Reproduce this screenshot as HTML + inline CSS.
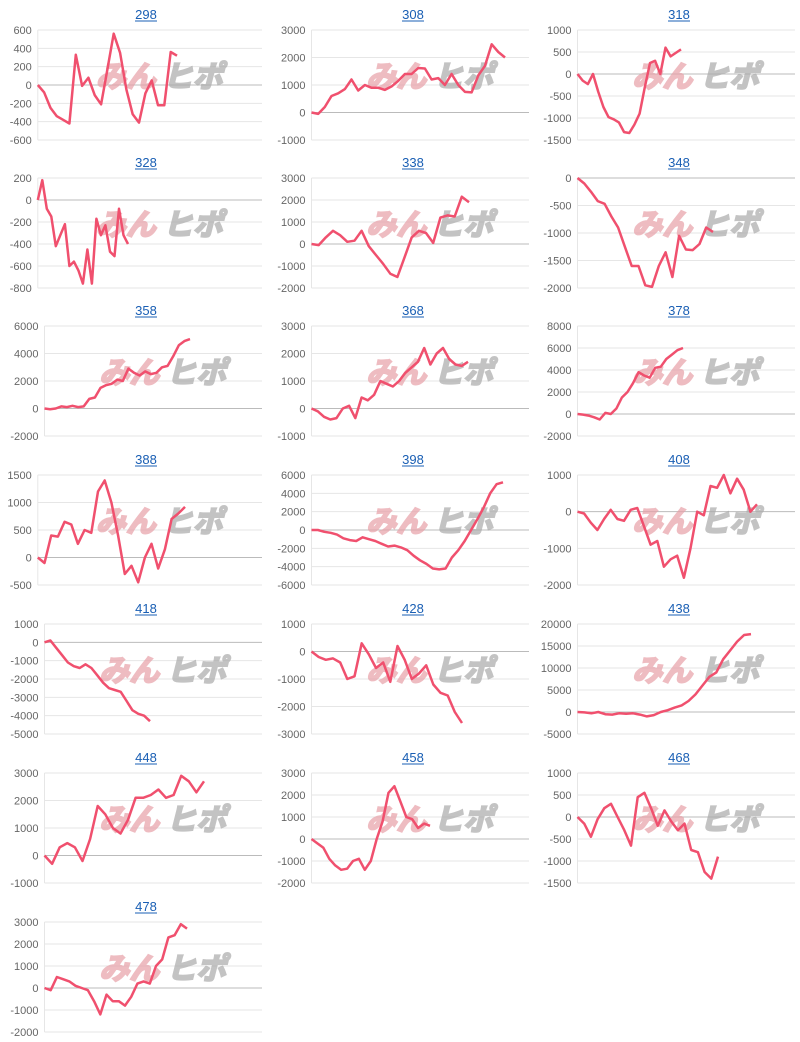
<!DOCTYPE html>
<html><head><meta charset="utf-8"><style>
html,body{margin:0;padding:0;background:#fff;width:800px;height:1042px;overflow:hidden}
svg{display:block}
</style></head><body>
<svg id="s" width="800" height="1042" xmlns="http://www.w3.org/2000/svg" font-family="Liberation Sans, sans-serif"></svg>
<script>
var P=[
["298",-600,600,200,[0,-80,-250,-340,-380,-420,330,-10,80,-110,-210,170,560,350,-50,-320,-410,-90,50,-220,-220,360,320],177],
["308",-1000,3000,1000,[0,-50,200,600,700,850,1200,800,1000,900,900,820,950,1150,1400,1400,1620,1600,1200,1250,1000,1400,1000,750,730,1350,1700,2480,2200,2000],505],
["318",-1500,1000,500,[0,-150,-230,0,-400,-750,-980,-1030,-1100,-1320,-1340,-1150,-900,-300,250,300,0,600,400,480,560],681],
["328",-800,200,200,[0,180,-80,-150,-420,-320,-220,-600,-560,-640,-760,-450,-760,-170,-320,-230,-470,-510,-80,-320,-400],128],
["338",-2000,3000,1000,[0,-50,300,600,400,100,150,600,-100,-500,-900,-1350,-1500,-600,300,600,500,50,1200,1300,1250,2150,1900],469],
["348",-2000,0,500,[0,-100,-250,-420,-470,-700,-900,-1250,-1600,-1600,-1950,-1980,-1600,-1350,-1800,-1050,-1300,-1310,-1200,-900,-980],713],
["358",-2000,6000,2000,[0,-50,0,150,100,200,100,150,700,800,1500,1700,1800,2100,2000,2900,2600,2400,2700,2500,2600,3000,3100,3800,4600,4900,5050],190],
["368",-1000,3000,1000,[0,-100,-300,-400,-350,0,100,-350,400,300,500,1000,900,800,1000,1300,1500,1700,2200,1600,2000,2200,1800,1600,1550,1700],468],
["378",-2000,8000,2000,[0,-50,-150,-300,-500,100,0,500,1500,2000,2800,3800,3500,3300,4200,4300,5000,5400,5800,6000],683],
["388",-500,1500,500,[0,-100,400,380,650,600,250,500,450,1200,1400,1000,400,-300,-150,-450,0,250,-200,150,700,800,920],185],
["398",-6000,6000,2000,[0,0,-200,-300,-500,-900,-1100,-1200,-800,-1000,-1200,-1500,-1800,-1700,-1900,-2200,-2800,-3300,-3700,-4200,-4300,-4200,-3000,-2200,-1200,0,1200,2500,4000,5000,5200],503],
["408",-2000,1000,1000,[0,-50,-300,-500,-200,50,-200,-250,50,100,-400,-900,-800,-1500,-1300,-1200,-1800,-1000,0,-100,700,650,1000,500,900,600,0,200],757],
["418",-5000,1000,1000,[0,100,-300,-700,-1100,-1300,-1400,-1200,-1400,-1800,-2200,-2500,-2600,-2700,-3200,-3700,-3900,-4000,-4300],150],
["428",-3000,1000,1000,[0,-200,-300,-250,-400,-1000,-900,300,-100,-600,-400,-1100,200,-300,-1000,-800,-500,-1200,-1500,-1600,-2200,-2600],462],
["438",-5000,20000,5000,[0,-100,-300,0,-500,-600,-300,-400,-300,-600,-1000,-700,0,400,1000,1500,2500,4000,6000,8000,9000,12000,14000,16000,17500,17700],751],
["448",-1000,3000,1000,[0,-300,300,450,300,-200,600,1800,1500,1000,800,1300,2100,2100,2200,2400,2100,2200,2900,2700,2300,2700],204],
["458",-2000,3000,1000,[0,-200,-400,-900,-1200,-1400,-1350,-1000,-900,-1400,-1000,0,800,2100,2400,1700,1000,900,500,700,600],430],
["468",-1500,1000,500,[0,-150,-450,-50,200,300,0,-300,-650,450,550,200,-200,150,-100,-300,-150,-750,-800,-1250,-1400,-900],718],
["478",-2000,3000,1000,[0,-100,500,400,300,100,0,-100,-600,-1200,-300,-600,-600,-800,-400,200,300,200,1000,1300,2300,2400,2900,2700],187]
];
var TY=[14,162,310,459,608,757,906],CX=[0,267,533];
var h='';
P.forEach(function(p,i){
 var col=i%3,row=Math.floor(i/3),cx=CX[col],ty=TY[row];
 var mn=p[1],mx=p[2],st=p[3],top=ty+16,H=110,bot=top+H;
 var mw=0;for(var v=mn;v<=mx;v+=st){mw=Math.max(mw,String(v).length);}
 var L=cx+4+mw*6.7+7,R=cx+262;
 h+='<text x="'+(cx+146)+'" y="'+(ty+5)+'" font-size="13" fill="#1a5fb4" text-anchor="middle">'+p[0]+'</text>';
 h+='<line x1="'+(cx+146-11)+'" y1="'+(ty+7)+'" x2="'+(cx+146+11)+'" y2="'+(ty+7)+'" stroke="#1a5fb4" stroke-width="1"/>';
 var Y=function(v){return bot-(v-mn)/(mx-mn)*H;};
 for(var v=mn;v<=mx;v+=st){var y=Y(v);
  h+='<line x1="'+L+'" y1="'+y+'" x2="'+R+'" y2="'+y+'" stroke="'+(v==0?'#bbb':'#e6e6e6')+'" stroke-width="1"/>';
  h+='<text x="'+(L-6)+'" y="'+(y+4)+'" font-size="11" fill="#666" text-anchor="end">'+v+'</text>';}
 h+='<line x1="'+L+'" y1="'+top+'" x2="'+L+'" y2="'+bot+'" stroke="#e6e6e6"/>';
 var wx=(L+R)/2+8,wy=top+57;
 h+='<text x="'+(wx-32)+'" y="'+wy+'" font-size="30" font-weight="bold" font-style="italic" fill="#e8a0a8" stroke="#e8a0a8" stroke-width="2" opacity="0.7" text-anchor="middle" font-family="Noto Sans CJK JP, sans-serif">みん</text>';
 h+='<text x="'+(wx+35)+'" y="'+wy+'" font-size="30" font-weight="bold" font-style="italic" fill="#aaa" stroke="#aaa" stroke-width="2" opacity="0.7" text-anchor="middle" font-family="Noto Sans CJK JP, sans-serif">ヒポ</text>';
 var d=p[4],n=d.length,dx=(p[5]-L)/(n-1),pts=[];
 d.forEach(function(v,k){pts.push((L+k*dx).toFixed(1)+','+Y(v).toFixed(1));});
 h+='<polyline points="'+pts.join(' ')+'" fill="none" stroke="#f0506e" stroke-width="2.5" stroke-linejoin="round"/>';
});
document.getElementById('s').innerHTML=h;
</script>
</body></html>
